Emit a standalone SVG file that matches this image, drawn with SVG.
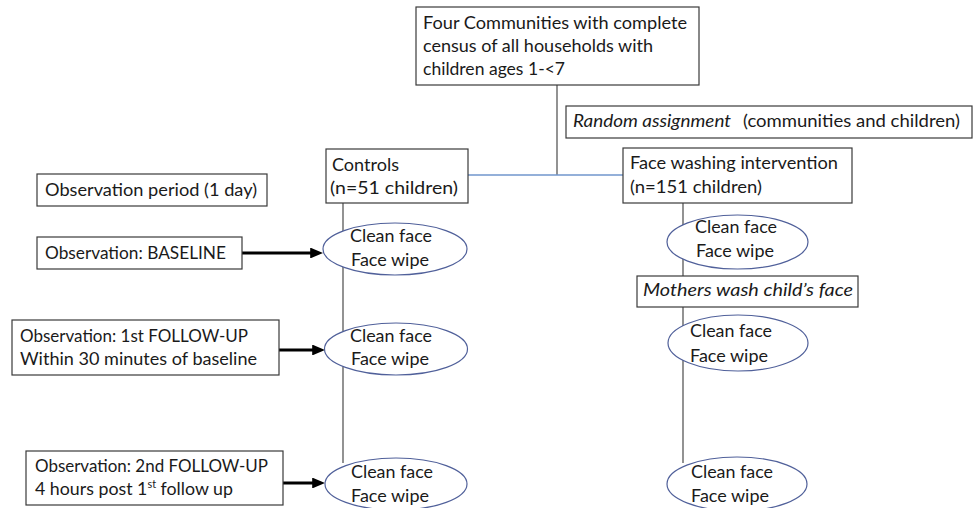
<svg xmlns="http://www.w3.org/2000/svg" width="979" height="508" viewBox="0 0 979 508">
<style>
text{font-family:Lato,"Liberation Sans",sans-serif;font-size:18px;fill:#1a1a1a}
.it{font-style:italic}
.box{fill:#fff;stroke:#3a3a3a;stroke-width:1.2}
.ell{fill:#fff;stroke:#50609a;stroke-width:1.2}
.ln{stroke:#4a4a4a;stroke-width:1.2;fill:none}
.blue{stroke:#7096cc;stroke-width:1.5;fill:none}
.arr{stroke:#000;stroke-width:3.2;fill:none}
</style>
<defs>
<marker id="ah" markerWidth="4" markerHeight="3.4" refX="1" refY="1.7" orient="auto" markerUnits="strokeWidth">
<path d="M0,0 L4,1.7 L0,3.4 Z" fill="#000"/>
</marker>
</defs>
<g id="connectors">
<line class="ln" x1="557" y1="85" x2="557" y2="175"/>
<line class="blue" x1="468" y1="175" x2="623" y2="175"/>
<line class="ln" x1="343" y1="203" x2="343" y2="463"/>
<line class="ln" x1="683" y1="203" x2="683" y2="463"/>
<line class="arr" x1="242" y1="253" x2="313.4" y2="253" marker-end="url(#ah)"/>
<line class="arr" x1="279" y1="350" x2="315.4" y2="350" marker-end="url(#ah)"/>
<line class="arr" x1="283" y1="483" x2="315.4" y2="483" marker-end="url(#ah)"/>
</g>
<g id="census">
<rect class="box" x="416" y="7" width="283" height="78"/>
<text x="423" y="28.5" textLength="264" lengthAdjust="spacingAndGlyphs">Four Communities with complete</text>
<text x="423" y="51.5" textLength="230" lengthAdjust="spacingAndGlyphs">census of all households with</text>
<text x="423" y="74.5" textLength="142" lengthAdjust="spacingAndGlyphs">children ages 1-&lt;7</text>
</g>
<g id="random">
<rect class="box" x="566" y="106" width="406" height="32"/>
<text class="it" x="573" y="127" textLength="158" lengthAdjust="spacingAndGlyphs">Random assignment</text>
<text x="743" y="127" textLength="217" lengthAdjust="spacingAndGlyphs">(communities and children)</text>
</g>
<g id="controls">
<rect class="box" x="326" y="149" width="142" height="54"/>
<text x="332" y="170.5" textLength="67" lengthAdjust="spacingAndGlyphs">Controls</text>
<text x="330" y="194" textLength="128" lengthAdjust="spacingAndGlyphs">(n=51 children)</text>
</g>
<g id="intervention">
<rect class="box" x="623" y="148" width="229" height="55"/>
<text x="630" y="169" textLength="208" lengthAdjust="spacingAndGlyphs">Face washing intervention</text>
<text x="630" y="192.5" textLength="132" lengthAdjust="spacingAndGlyphs">(n=151 children)</text>
</g>
<g id="obs-period">
<rect class="box" x="37" y="174" width="230" height="32"/>
<text x="45" y="195.5" textLength="212" lengthAdjust="spacingAndGlyphs">Observation period (1 day)</text>
</g>
<g id="obs-baseline">
<rect class="box" x="37" y="237" width="205" height="32"/>
<text x="45" y="259" textLength="181" lengthAdjust="spacingAndGlyphs">Observation: BASELINE</text>
</g>
<g id="obs-fu1">
<rect class="box" x="12" y="320" width="267" height="55"/>
<text x="20" y="341.5" textLength="228" lengthAdjust="spacingAndGlyphs">Observation: 1st FOLLOW-UP</text>
<text x="20" y="364.5" textLength="237" lengthAdjust="spacingAndGlyphs">Within 30 minutes of baseline</text>
</g>
<g id="obs-fu2">
<rect class="box" x="26" y="451" width="257" height="54"/>
<text x="35" y="471.5" textLength="233" lengthAdjust="spacingAndGlyphs">Observation: 2nd FOLLOW-UP</text>
<text x="35" y="495" textLength="198" lengthAdjust="spacingAndGlyphs">4 hours post 1<tspan font-size="11" dy="-7">st</tspan><tspan dy="7"> follow up</tspan></text>
</g>
<g id="c-baseline">
<ellipse class="ell" cx="395" cy="249" rx="72" ry="26"/>
<text x="350" y="242" textLength="82" lengthAdjust="spacingAndGlyphs">Clean face</text>
<text x="351" y="266" textLength="78" lengthAdjust="spacingAndGlyphs">Face wipe</text>
</g>
<g id="c-fu1">
<ellipse class="ell" cx="396" cy="349" rx="71.5" ry="26"/>
<text x="350" y="342" textLength="82" lengthAdjust="spacingAndGlyphs">Clean face</text>
<text x="351" y="365" textLength="78" lengthAdjust="spacingAndGlyphs">Face wipe</text>
</g>
<g id="c-fu2">
<ellipse class="ell" cx="396" cy="484" rx="71" ry="26"/>
<text x="351" y="478" textLength="82" lengthAdjust="spacingAndGlyphs">Clean face</text>
<text x="351" y="502" textLength="78" lengthAdjust="spacingAndGlyphs">Face wipe</text>
</g>
<g id="i-baseline">
<ellipse class="ell" cx="737.5" cy="242" rx="70.5" ry="27"/>
<text x="695" y="233" textLength="82" lengthAdjust="spacingAndGlyphs">Clean face</text>
<text x="696" y="257" textLength="78" lengthAdjust="spacingAndGlyphs">Face wipe</text>
</g>
<g id="mothers">
<rect class="box" x="637" y="276" width="221" height="31"/>
<text class="it" x="643" y="296" textLength="210" lengthAdjust="spacingAndGlyphs">Mothers wash child’s face</text>
</g>
<g id="i-fu1">
<ellipse class="ell" cx="738" cy="343" rx="70" ry="28"/>
<text x="690" y="337" textLength="82" lengthAdjust="spacingAndGlyphs">Clean face</text>
<text x="690" y="362" textLength="78" lengthAdjust="spacingAndGlyphs">Face wipe</text>
</g>
<g id="i-fu2">
<ellipse class="ell" cx="737" cy="484" rx="70" ry="27"/>
<text x="691" y="478" textLength="82" lengthAdjust="spacingAndGlyphs">Clean face</text>
<text x="691" y="502" textLength="78" lengthAdjust="spacingAndGlyphs">Face wipe</text>
</g>
</svg>
